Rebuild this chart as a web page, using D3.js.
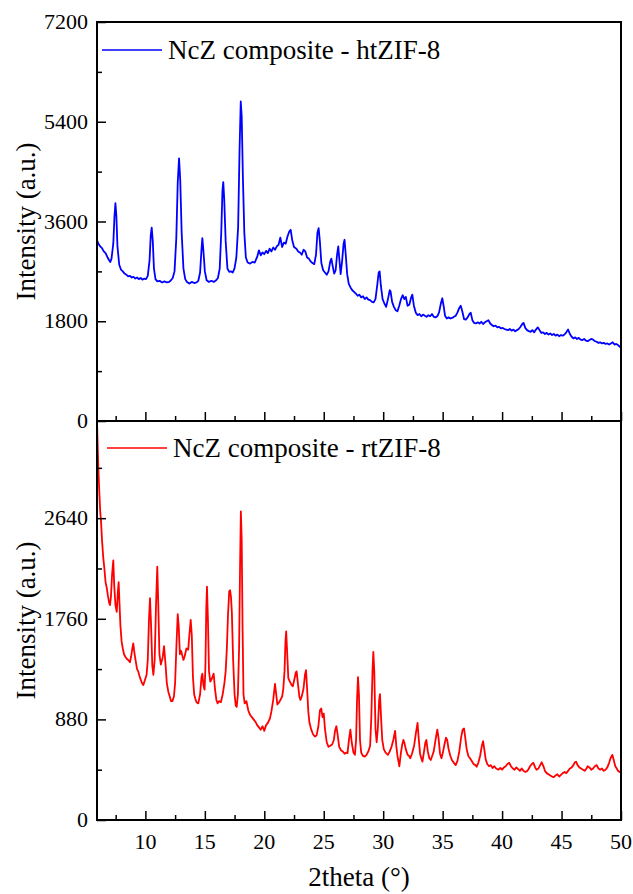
<!DOCTYPE html>
<html>
<head>
<meta charset="utf-8">
<script src="https://cdn.jsdelivr.net/npm/d3@7"></script>
</head>
<body style="margin:0">
<div id="chart"></div>
<script>
// x range and tick labels
var xDomain = [5.93, 50];
var xTicks = [10, 15, 20, 25, 30, 35, 40, 45, 50];
var xMinorTicks = [7.5, 12.5, 17.5, 22.5, 27.5, 32.5, 37.5, 42.5, 47.5];

// top panel: NcZ composite - htZIF-8
var htLabel = 'NcZ composite - htZIF-8';
var htTicks = [0, 1800, 3600, 5400, 7200];
var htMinorTicks = [900, 2700, 4500, 6300];
var htMax = 7200;
var htTheta = [5.93, 6.05, 6.2, 6.35, 6.5, 6.65, 6.8, 6.95, 7.05, 7.15, 7.3, 7.4, 7.48, 7.56, 7.65, 7.8, 7.95, 8.1, 8.25, 8.4, 8.55, 8.7, 8.85, 9.0, 9.15, 9.3, 9.45, 9.6, 9.75, 9.9, 10.05, 10.2, 10.35, 10.45, 10.53, 10.62, 10.72, 10.85, 11.0, 11.2, 11.4, 11.6, 11.8, 12.0, 12.15, 12.3, 12.45, 12.6, 12.72, 12.83, 12.93, 13.05, 13.2, 13.35, 13.5, 13.7, 13.9, 14.1, 14.3, 14.45, 14.6, 14.72, 14.79, 14.87, 15.0, 15.15, 15.35, 15.55, 15.75, 15.95, 16.1, 16.25, 16.38, 16.48, 16.55, 16.63, 16.75, 16.9, 17.05, 17.2, 17.35, 17.5, 17.65, 17.8, 17.92, 18.02, 18.1, 18.2, 18.32, 18.45, 18.6, 18.8, 19.0, 19.2, 19.4, 19.55, 19.7, 19.85, 20.0, 20.15, 20.3, 20.45, 20.6, 20.75, 20.9, 21.05, 21.2, 21.35, 21.5, 21.65, 21.8, 21.95, 22.1, 22.22, 22.35, 22.5, 22.7, 22.85, 23.0, 23.15, 23.3, 23.45, 23.6, 23.75, 23.9, 24.05, 24.2, 24.35, 24.47, 24.57, 24.67, 24.8, 24.95, 25.1, 25.25, 25.4, 25.55, 25.64, 25.75, 25.88, 26.0, 26.12, 26.22, 26.32, 26.42, 26.55, 26.67, 26.75, 26.85, 26.97, 27.1, 27.25, 27.4, 27.55, 27.7, 27.85, 28.0, 28.15, 28.3, 28.45, 28.6, 28.75, 28.9, 29.05, 29.2, 29.35, 29.5, 29.62, 29.7, 29.8, 29.95, 30.1, 30.25, 30.4, 30.55, 30.62, 30.75, 30.9, 31.05, 31.2, 31.35, 31.5, 31.64, 31.78, 31.9, 32.05, 32.2, 32.35, 32.45, 32.58, 32.75, 32.9, 33.05, 33.2, 33.35, 33.5, 33.65, 33.8, 33.95, 34.1, 34.25, 34.4, 34.55, 34.7, 34.85, 34.97, 35.08, 35.2, 35.35, 35.5, 35.65, 35.8, 35.95, 36.1, 36.25, 36.4, 36.52, 36.65, 36.8, 36.95, 37.1, 37.25, 37.36, 37.5, 37.65, 37.8, 37.95, 38.1, 38.25, 38.4, 38.55, 38.7, 38.85, 39.0, 39.15, 39.3, 39.45, 39.6, 39.75, 39.9, 40.05, 40.2, 40.35, 40.5, 40.65, 40.8, 40.95, 41.1, 41.25, 41.4, 41.55, 41.7, 41.8, 41.95, 42.1, 42.25, 42.4, 42.55, 42.7, 42.85, 43.0, 43.15, 43.3, 43.45, 43.6, 43.75, 43.9, 44.05, 44.2, 44.35, 44.5, 44.65, 44.8, 44.95, 45.1, 45.25, 45.4, 45.55, 45.7, 45.85, 46.0, 46.15, 46.3, 46.45, 46.6, 46.75, 46.9, 47.05, 47.2, 47.35, 47.5, 47.65, 47.8, 47.95, 48.1, 48.25, 48.4, 48.55, 48.7, 48.85, 49.0, 49.15, 49.3, 49.45, 49.6, 49.75, 49.9, 50.0];
var htIntensity = [3260, 3200, 3150, 3120, 3060, 3030, 2960, 2900, 2870, 2930, 3200, 3700, 3930, 3700, 3150, 2820, 2730, 2700, 2660, 2640, 2610, 2620, 2590, 2600, 2570, 2590, 2560, 2580, 2550, 2570, 2560, 2620, 2900, 3350, 3490, 3250, 2750, 2560, 2520, 2530, 2500, 2520, 2500, 2510, 2540, 2580, 2700, 3300, 4300, 4740, 4350, 3400, 2750, 2560, 2510, 2480, 2510, 2490, 2500, 2530, 2680, 3100, 3300, 3100, 2700, 2540, 2510, 2530, 2510, 2540, 2580, 2750, 3400, 4150, 4310, 4000, 3250, 2750, 2690, 2700, 2680, 2760, 2950, 3500, 4900, 5765, 5500, 4400, 3400, 2950, 2860, 2840, 2870, 2860, 2960, 3080, 2990, 3040, 3010, 3070, 3030, 3110, 3060, 3130, 3090, 3150, 3180, 3310, 3140, 3220, 3200, 3330, 3420, 3450, 3260, 3140, 3110, 3060, 3040, 3000, 3090, 3060, 2950, 2930, 2880, 2850, 2830, 3000, 3400, 3480, 3250, 2850, 2720, 2680, 2640, 2700, 2880, 2930, 2800, 2660, 2720, 3000, 3150, 2900, 2650, 2900, 3200, 3270, 3000, 2650, 2480, 2410, 2360, 2330, 2300, 2260, 2280, 2230, 2250, 2200, 2230, 2190, 2180, 2150, 2140, 2200, 2450, 2680, 2700, 2450, 2200, 2120, 2060, 2200, 2360, 2340, 2150, 2060, 2000, 1980, 2080, 2200, 2270, 2200, 2240, 2080, 2100, 2230, 2280, 2080, 1950, 1910, 1930, 1890, 1920, 1900, 1880, 1910, 1890, 1930, 1880, 1870, 1890, 1960, 2120, 2215, 2080, 1900, 1850, 1870, 1850, 1860, 1880, 1900, 1960, 2040, 2080, 1980, 1840, 1830, 1870, 1930, 1955, 1820, 1770, 1760, 1780, 1760, 1790, 1750, 1780, 1800, 1820, 1760, 1730, 1710, 1720, 1690, 1700, 1670, 1680, 1660, 1650, 1640, 1660, 1630, 1650, 1620, 1640, 1660, 1700, 1750, 1770, 1680, 1640, 1620, 1610, 1640, 1600, 1650, 1690, 1640, 1590, 1600, 1570, 1590, 1560, 1580, 1550, 1570, 1540, 1560, 1530, 1550, 1540, 1560, 1600, 1650, 1570, 1520, 1490, 1510, 1480, 1500, 1470, 1460, 1480, 1450, 1440, 1460, 1480, 1470, 1440, 1430, 1410, 1420, 1400, 1410, 1390, 1400, 1380, 1400, 1420, 1380, 1390, 1370, 1340, 1360];

// bottom panel: NcZ composite - rtZIF-8
var rtLabel = 'NcZ composite - rtZIF-8';
var rtTicks = [0, 880, 1760, 2640];
var rtMinorTicks = [440, 1320, 2200, 3080];
var rtMax = 3490;
var rtTheta = [5.93, 5.98, 6.04, 6.12, 6.2, 6.27, 6.35, 6.46, 6.55, 6.65, 6.75, 6.85, 6.95, 7.02, 7.1, 7.2, 7.3, 7.38, 7.48, 7.59, 7.68, 7.75, 7.82, 7.9, 8.0, 8.1, 8.2, 8.3, 8.43, 8.55, 8.7, 8.8, 8.9, 8.98, 9.08, 9.2, 9.3, 9.4, 9.5, 9.6, 9.7, 9.82, 9.95, 10.1, 10.2, 10.3, 10.39, 10.48, 10.58, 10.67, 10.78, 10.9, 11.0, 11.08, 11.18, 11.3, 11.45, 11.57, 11.68, 11.8, 11.93, 12.05, 12.15, 12.27, 12.4, 12.5, 12.62, 12.72, 12.8, 12.9, 13.0, 13.1, 13.2, 13.3, 13.45, 13.6, 13.7, 13.81, 13.9, 14.0, 14.1, 14.2, 14.3, 14.45, 14.6, 14.72, 14.79, 14.88, 14.98, 15.05, 15.12, 15.18, 15.26, 15.35, 15.46, 15.6, 15.74, 15.85, 15.97, 16.08, 16.2, 16.35, 16.5, 16.65, 16.75, 16.85, 16.95, 17.05, 17.12, 17.2, 17.27, 17.38, 17.5, 17.6, 17.68, 17.78, 17.88, 17.96, 18.03, 18.1, 18.17, 18.25, 18.35, 18.5, 18.65, 18.8, 18.95, 19.1, 19.25, 19.4, 19.55, 19.7, 19.85, 20.0, 20.15, 20.3, 20.48, 20.6, 20.75, 20.9, 21.0, 21.1, 21.25, 21.4, 21.5, 21.6, 21.7, 21.78, 21.84, 21.9, 22.02, 22.15, 22.3, 22.4, 22.55, 22.65, 22.72, 22.82, 22.95, 23.04, 23.15, 23.3, 23.42, 23.51, 23.6, 23.7, 23.8, 23.95, 24.1, 24.25, 24.4, 24.55, 24.68, 24.79, 24.9, 25.0, 25.1, 25.25, 25.4, 25.55, 25.7, 25.85, 25.95, 26.06, 26.15, 26.3, 26.45, 26.6, 26.75, 26.9, 27.0, 27.12, 27.24, 27.35, 27.5, 27.62, 27.72, 27.8, 27.88, 27.96, 28.05, 28.15, 28.3, 28.45, 28.6, 28.75, 28.9, 29.0, 29.1, 29.17, 29.25, 29.35, 29.45, 29.55, 29.66, 29.73, 29.82, 29.92, 30.05, 30.2, 30.4, 30.55, 30.7, 30.85, 31.0, 31.1, 31.2, 31.36, 31.48, 31.6, 31.7, 31.77, 31.9, 32.05, 32.18, 32.28, 32.42, 32.6, 32.75, 32.89, 32.98, 33.1, 33.2, 33.3, 33.42, 33.55, 33.63, 33.75, 33.88, 34.0, 34.12, 34.25, 34.4, 34.55, 34.65, 34.78, 34.9, 35.02, 35.15, 35.28, 35.38, 35.5, 35.65, 35.8, 35.95, 36.1, 36.25, 36.4, 36.55, 36.68, 36.8, 36.9, 37.02, 37.16, 37.3, 37.42, 37.6, 37.75, 37.86, 38.0, 38.15, 38.3, 38.4, 38.5, 38.62, 38.75, 38.9, 39.05, 39.2, 39.35, 39.5, 39.68, 39.85, 40.0, 40.15, 40.3, 40.45, 40.6, 40.75, 40.9, 41.05, 41.2, 41.35, 41.5, 41.65, 41.8, 41.95, 42.07, 42.2, 42.35, 42.5, 42.63, 42.78, 42.9, 43.05, 43.2, 43.33, 43.48, 43.6, 43.75, 43.9, 44.05, 44.2, 44.35, 44.5, 44.65, 44.8, 44.95, 45.1, 45.25, 45.4, 45.55, 45.7, 45.85, 46.0, 46.12, 46.22, 46.35, 46.5, 46.65, 46.8, 46.95, 47.1, 47.2, 47.35, 47.5, 47.65, 47.8, 47.96, 48.1, 48.25, 48.4, 48.55, 48.7, 48.85, 49.0, 49.12, 49.27, 49.4, 49.52, 49.64, 49.75, 49.88, 50.0];
var rtIntensity = [3480, 3300, 3080, 2880, 2700, 2610, 2450, 2290, 2200, 2080, 2030, 1960, 1900, 1880, 1950, 2150, 2270, 2050, 1880, 1820, 1990, 2080, 1900, 1700, 1560, 1500, 1450, 1430, 1410, 1400, 1380, 1430, 1500, 1545, 1460, 1380, 1320, 1300, 1260, 1230, 1200, 1180, 1220, 1270, 1400, 1750, 1940, 1700, 1350, 1270, 1400, 1900, 2215, 1900, 1450, 1360, 1420, 1520, 1380, 1200, 1120, 1080, 1040, 1040, 1080, 1200, 1550, 1800, 1700, 1450, 1480, 1440, 1400, 1430, 1500, 1490, 1620, 1750, 1620, 1250, 1100, 1060, 1030, 1020, 1100, 1250, 1280, 1180, 1140, 1350, 1850, 2040, 1750, 1300, 1210, 1240, 1280, 1150, 1050, 1020, 1040, 1030, 1100, 1200, 1300, 1500, 1800, 2000, 2010, 1950, 1820, 1400, 1100, 1000, 990, 1100, 1500, 2200, 2700, 2450, 1700, 1100, 1020, 1040, 960, 920, 900, 880, 860, 830, 810, 790, 820, 780, 830, 850, 890, 950, 1050, 1190, 1100, 1010, 1030, 1060, 1080, 1150, 1300, 1560, 1650, 1520, 1240, 1210, 1180, 1170, 1240, 1290, 1300, 1200, 1080, 1050, 1080, 1150, 1270, 1310, 1150, 950, 850, 790, 750, 730, 740, 820, 960, 975, 900, 930, 800, 680, 640, 650, 660, 700, 780, 820, 760, 640, 610, 600, 580, 590, 585, 700, 790, 680, 590, 570, 700, 1050, 1250, 1100, 700, 590, 560, 555, 570, 600, 650, 900, 1300, 1470, 1300, 800, 680, 800, 1050, 1100, 900, 700, 620, 590, 570, 600, 640, 700, 780, 650, 560, 470, 580, 660, 700, 680, 620, 570, 560, 540, 580, 650, 760, 850, 720, 580, 540, 510, 590, 680, 700, 600, 540, 525, 560, 600, 700, 790, 720, 580, 540, 590, 660, 720, 700, 620, 560, 520, 500, 480, 520, 600, 720, 790, 800, 720, 620, 560, 540, 520, 490, 480, 466, 500, 560, 650, 690, 620, 530, 490, 470, 480, 455, 470, 450, 440, 455, 440, 460, 470, 490, 500, 470, 450, 440, 460, 445, 430, 450, 430, 420, 425, 440, 470, 490, 500, 460, 440, 450, 480, 505, 470, 430, 410, 400, 390, 380, 375, 390, 400, 380, 395, 410, 420, 410, 430, 450, 460, 480, 505, 510, 480, 460, 450, 440, 430, 450, 470, 460, 440, 450, 470, 480, 450, 440, 450, 430, 440, 460, 500, 540, 570, 520, 470, 450, 430, 420, 425];

var width = 633, height = 894;
var left = 97, right = 621;
var panelH = 399;
var topY = 22, midY = 421;
var fontStack = '"Liberation Serif"';

var svg = d3.select('#chart').append('svg')
	.attr('width', width)
	.attr('height', height)
	.style('font-family', fontStack);

var x = d3.scaleLinear().domain(xDomain).range([left, right]);

function zip(a, b) {
	return a.map(function(v, i) { return [v, b[i]]; });
}

function tickOnly(s) {
	s.attr('font-family', null);
	s.select('.domain').remove();
	s.selectAll('line').attr('stroke', '#000').attr('stroke-width', 1.5);
}

// texts go straight on the svg
function addText(px, py, str, size, anchor, rotate) {
	var t = svg.append('text')
		.style('font-family', fontStack)
		.attr('font-size', size)
		.attr('fill', '#000')
		.attr('text-anchor', anchor)
		.text(str);
	if (rotate) {
		t.attr('transform', 'translate(' + px + ',' + py + ') rotate(-90)');
	} else {
		t.attr('x', px).attr('y', py);
	}
	return t;
}

function drawPanel(y0, max, ticks, minor, theta, intensity, color, name, legendY, legendX) {
	var y = d3.scaleLinear().domain([0, max]).range([y0 + panelH, y0]);
	var clipId = 'clip' + y0;

	svg.append('clipPath').attr('id', clipId)
		.append('rect')
		.attr('x', left).attr('y', y0)
		.attr('width', right - left).attr('height', panelH);

	var line = d3.line()
		.x(function(d) { return x(d[0]); })
		.y(function(d) { return y(d[1]); });

	svg.append('path')
		.datum(zip(theta, intensity))
		.attr('clip-path', 'url(#' + clipId + ')')
		.attr('d', line)
		.attr('fill', 'none')
		.attr('stroke', color)
		.attr('stroke-width', 1.8)
		.attr('stroke-linejoin', 'round');

	// left axis, ticks point inward
	svg.append('g').attr('transform', 'translate(' + left + ',0)')
		.call(d3.axisRight(y).tickValues(ticks).tickSize(9).tickFormat(''))
		.call(tickOnly);
	svg.append('g').attr('transform', 'translate(' + left + ',0)')
		.call(d3.axisRight(y).tickValues(minor).tickSize(5).tickFormat(''))
		.call(tickOnly);

	ticks.forEach(function(d) {
		addText(left - 9, y(d) + 7, d, 22, 'end');
	});

	// bottom ticks of the panel point up
	svg.append('g').attr('transform', 'translate(0,' + (y0 + panelH) + ')')
		.call(d3.axisTop(x).tickValues(xTicks).tickSize(9).tickFormat(''))
		.call(tickOnly);
	svg.append('g').attr('transform', 'translate(0,' + (y0 + panelH) + ')')
		.call(d3.axisTop(x).tickValues(xMinorTicks).tickSize(5).tickFormat(''))
		.call(tickOnly);

	svg.append('rect')
		.attr('x', left).attr('y', y0)
		.attr('width', right - left).attr('height', panelH)
		.attr('fill', 'none')
		.attr('stroke', '#000')
		.attr('stroke-width', 2);

	addText(35, y0 + panelH / 2, 'Intensity (a.u.)', 27, 'middle', true);

	// legend
	svg.append('line')
		.attr('x1', legendX).attr('x2', legendX + 60)
		.attr('y1', legendY).attr('y2', legendY)
		.attr('stroke', color)
		.attr('stroke-width', 1.3);
	addText(legendX + 66, legendY + 9, name, 27, 'start');
}

drawPanel(topY, htMax, htTicks, htMinorTicks, htTheta, htIntensity, '#0000ff', htLabel, 50, 102);
drawPanel(midY, rtMax, rtTicks, rtMinorTicks, rtTheta, rtIntensity, '#ff0000', rtLabel, 448, 107);

xTicks.forEach(function(d) {
	addText(x(d), midY + panelH + 29, d, 22, 'middle');
});

addText((left + right) / 2, 886, '2theta (\u00b0)', 27, 'middle');
</script>
</body>
</html>
